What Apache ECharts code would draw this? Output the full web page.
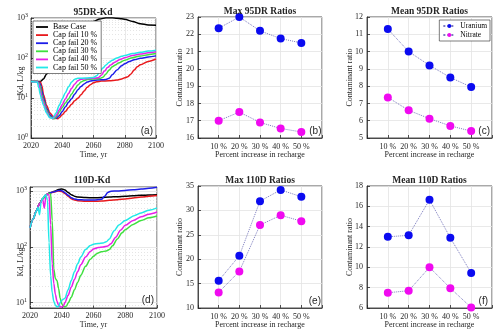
<!DOCTYPE html>
<html><head><meta charset="utf-8">
<script src="https://cdn.jsdelivr.net/npm/echarts@6/dist/echarts.min.js"></script>
<style>html,body{margin:0;padding:0;background:#fff}#c{width:500px;height:336px}</style>
</head><body><div id="c"></div>
<script>
// ---------- DATA ----------
const kdNames = ['Base Case', 'Cap fail 10 %', 'Cap fail 20 %', 'Cap fail 30 %', 'Cap fail 40 %', 'Cap fail 50 %'];
const kdColors = ['#000000', '#e8191c', '#1c1ce8', '#3ee03e', '#e81ee8', '#22e8e8'];

// 95DR-Kd  [year, Kd]
const dr95_base = [[2020,26],[2024,26],[2026,26],[2028,30],[2030,40],[2032,46],[2034,55],[2036,68],[2038,88],[2040,112],[2044,190],[2048,320],[2052,480],[2056,650],[2060,820],[2064,950],[2068,1010],[2070,1020],[2072,1015],[2075,990],[2078,960],[2080,930],[2085,820],[2090,720],[2095,670],[2100,660]];
const dr95_10 = [[2020,26],[2024,26],[2026,25],[2027,20],[2028,12],[2030,6.5],[2032,4.3],[2034,3.5],[2036,3.1],[2037,3.05],[2038,3.2],[2040,3.8],[2042,4.6],[2044,5.7],[2046,7],[2048,8.5],[2050,9.8],[2052,12],[2054,15],[2056,18.5],[2058,21.5],[2060,24],[2062,25.5],[2065,26.5],[2070,27],[2075,28],[2078,30],[2080,32],[2082,34],[2084,40],[2086,50],[2088,60],[2090,68],[2095,82],[2100,95]];
const dr95_20 = [[2020,26],[2024,26],[2025,25],[2026,22],[2027,15],[2028,10],[2030,5.5],[2032,3.8],[2034,3.2],[2036,3.1],[2038,3.6],[2040,4.6],[2042,6],[2044,7.8],[2046,9.6],[2048,12.5],[2050,16],[2052,19.5],[2054,22.5],[2056,25],[2058,26.5],[2060,27.5],[2065,28.5],[2068,29],[2070,31],[2072,38],[2075,50],[2078,64],[2080,72],[2083,82],[2086,90],[2090,98],[2095,106],[2100,113]];
const dr95_30 = [[2020,26],[2024,26],[2025,24],[2026,19],[2027,12],[2028,8.5],[2030,5],[2032,3.5],[2034,3.05],[2035,3.05],[2036,3.3],[2038,4.4],[2040,5.8],[2042,7.5],[2044,9.5],[2046,12.5],[2048,16.5],[2050,21],[2052,25],[2054,27.5],[2056,29],[2060,30],[2064,30.5],[2066,33],[2068,40],[2070,50],[2072,60],[2074,67],[2076,75],[2080,88],[2085,102],[2090,112],[2095,121],[2100,129]];
const dr95_40 = [[2020,26],[2024,25.5],[2025,22],[2026,15],[2027,10],[2028,7.5],[2030,4.5],[2032,3.3],[2034,3.05],[2036,3.6],[2038,5],[2040,6.8],[2042,9.5],[2044,13],[2046,17.5],[2048,22.5],[2050,27],[2052,29.5],[2055,30.5],[2060,31],[2063,32],[2065,37],[2067,47],[2069,58],[2071,67],[2074,80],[2077,92],[2080,102],[2085,115],[2090,125],[2095,135],[2100,143]];
const dr95_50 = [[2020,26],[2024,25],[2025,18],[2026,12],[2027,8.5],[2028,6.5],[2030,4.2],[2032,3.2],[2034,3.1],[2036,4.2],[2038,6.5],[2040,9.5],[2042,13.5],[2044,19],[2046,25],[2048,29.5],[2050,31],[2055,31.5],[2060,32.5],[2062,36],[2064,45],[2066,56],[2068,67],[2070,78],[2072,88],[2075,100],[2078,110],[2080,116],[2085,129],[2090,139],[2095,149],[2100,157]];

// 110D-Kd  [year, Kd]
const d110_base = [[2020,220],[2022,320],[2024,450],[2026,600],[2028,740],[2030,860],[2032,930],[2034,970],[2036,1020],[2038,1080],[2040,1110],[2042,1060],[2044,960],[2046,870],[2048,820],[2050,790],[2055,775],[2060,770],[2065,775],[2070,790],[2075,805],[2080,820],[2085,835],[2090,850],[2095,860],[2100,870]];
const d110_10 = [[2020,220],[2022,320],[2024,450],[2026,600],[2028,740],[2030,860],[2032,930],[2034,960],[2036,990],[2038,1020],[2040,1000],[2042,920],[2044,820],[2046,740],[2048,700],[2050,680],[2055,665],[2060,665],[2065,670],[2070,690],[2075,710],[2080,730],[2085,760],[2090,790],[2095,815],[2100,840]];
const d110_20 = [[2020,220],[2022,320],[2024,450],[2026,600],[2028,740],[2030,860],[2032,930],[2034,965],[2036,1000],[2038,1040],[2040,1030],[2042,950],[2044,850],[2046,770],[2048,730],[2050,710],[2055,700],[2060,700],[2065,720],[2067,820],[2069,960],[2071,1010],[2075,1020],[2080,1040],[2085,1070],[2090,1100],[2095,1140],[2100,1190]];
const d110_30 = [[2020,220],[2022,320],[2024,450],[2026,600],[2028,740],[2030,850],[2032,920],[2033,900],[2034,300],[2035,40],[2036,27],[2037,25],[2038,18],[2039,12],[2040,9.5],[2041,8.6],[2042,8.4],[2043,8.7],[2044,9.8],[2046,12.5],[2048,17],[2050,23],[2052,31],[2055,45],[2058,60],[2060,68],[2062,76],[2065,82],[2068,85],[2070,90],[2072,105],[2075,140],[2078,180],[2080,205],[2085,255],[2090,300],[2095,335],[2100,360]];
const d110_40 = [[2020,220],[2022,320],[2024,450],[2026,600],[2028,720],[2029,500],[2030,800],[2031,900],[2032,870],[2033,250],[2034,50],[2035,22],[2036,14],[2037,10.5],[2038,9],[2039,8.4],[2040,8.3],[2041,8.7],[2042,10],[2044,13.5],[2046,19],[2048,26],[2050,36],[2052,48],[2055,66],[2058,83],[2060,92],[2063,98],[2066,100],[2069,104],[2071,115],[2074,150],[2077,200],[2080,245],[2085,300],[2090,350],[2095,390],[2100,425]];
const d110_50 = [[2020,220],[2022,320],[2024,440],[2025,520],[2026,380],[2027,650],[2028,750],[2029,820],[2030,870],[2031,700],[2032,120],[2033,30],[2034,15],[2035,10.5],[2036,9],[2037,8.4],[2038,8.5],[2039,10],[2040,11],[2041,11.5],[2042,12],[2044,17],[2046,25],[2048,36],[2050,50],[2052,66],[2055,90],[2058,106],[2060,112],[2063,116],[2066,118],[2068,124],[2070,140],[2073,196],[2076,250],[2080,300],[2086,370],[2090,410],[2095,460],[2100,505]];

// minor (dotted) grid values of the log axes
const minorKdA = [2,3,4,5,6,7,8,9,20,30,40,50,60,70,80,90,200,300,400,500,600,700,800,900];
const minorKdD = [9,20,30,40,50,60,70,80,90,200,300,400,500,600,700,800,900];

// Ratio panels
const recharge = ['10 %', '20 %', '30 %', '40 %', '50 %'];
const max95_U = [22.35, 23.0, 22.2, 21.75, 21.5];
const max95_N = [17.0, 17.5, 16.9, 16.55, 16.35];
const mean95_U = [11.3, 10.0, 9.2, 8.5, 7.95];
const mean95_N = [7.35, 6.6, 6.12, 5.7, 5.4];
const max110_U = [15.6, 20.7, 31.9, 34.2, 32.8];
const max110_N = [13.2, 17.5, 27.0, 29.0, 27.8];
const mean110_U = [13.0, 13.15, 16.65, 12.9, 9.45];
const mean110_N = [7.5, 7.7, 10.0, 7.95, 6.05];

// ---------- CHART ----------
const SERIF = 'Liberation Serif';
const AX = '#262626';
const grids = [
  {left:31, top:18, width:125, height:120},
  {left:198, top:17, width:124, height:121},
  {left:367, top:17, width:125, height:121},
  {left:30, top:187, width:127, height:121},
  {left:198, top:186, width:124, height:122},
  {left:367, top:186, width:125, height:122}
].map(g => Object.assign({show:true, borderColor:AX, borderWidth:0.8, backgroundColor:'#fff'}, g));

function baseAxis(extra) {
  return Object.assign({
    axisLine:{show:true, onZero:false, lineStyle:{color:AX, width:0.8}},
    axisTick:{show:true, inside:true, length:3, lineStyle:{color:AX, width:0.8}},
    axisLabel:{color:AX, fontFamily:SERIF, fontSize:8, margin:4},
    splitLine:{show:true, lineStyle:{color:'#e3e3e3', width:0.8}},
    nameTextStyle:{color:AX, fontFamily:SERIF, fontSize:8},
    nameLocation:'middle', nameMoveOverlap:false
  }, extra);
}
const supLabel = {
  formatter: v => { const e = Math.round(Math.log10(v)); return Math.abs(Math.pow(10,e)-v) < 1e-6*v ? '10{s|' + e + '}' : ''; },
  rich: { s: { fontSize:6, fontFamily:SERIF, color:AX, verticalAlign:'top', padding:[0,0,5,0] } },
  color:AX, fontFamily:SERIF, fontSize:8, margin:3
};
const yearLabel = {color:AX, fontFamily:SERIF, fontSize:8, margin:4, formatter: v => String(v)};
const catLabel = {color:AX, fontFamily:SERIF, fontSize:8, margin:5,
  formatter: v => (v >= 1 && v <= 5) ? recharge[v-1] : ''};

const xAxes = [
  baseAxis({gridIndex:0, type:'value', min:2020, max:2100, interval:20, name:'Time, yr', nameGap:13, axisLabel:yearLabel}),
  baseAxis({gridIndex:1, type:'value', min:0, max:6, interval:1, name:'Percent increase in recharge', nameGap:13, axisLabel:catLabel}),
  baseAxis({gridIndex:2, type:'value', min:0, max:6, interval:1, name:'Percent increase in recharge', nameGap:13, axisLabel:catLabel}),
  baseAxis({gridIndex:3, type:'value', min:2020, max:2100, interval:20, name:'Time, yr', nameGap:13, axisLabel:yearLabel}),
  baseAxis({gridIndex:4, type:'value', min:0, max:6, interval:1, name:'Percent increase in recharge', nameGap:13, axisLabel:catLabel}),
  baseAxis({gridIndex:5, type:'value', min:0, max:6, interval:1, name:'Percent increase in recharge', nameGap:13, axisLabel:catLabel})
];
const yAxes = [
  baseAxis({gridIndex:0, type:'log', logBase:10, min:1, max:1000, axisLabel:supLabel}),
  baseAxis({gridIndex:1, type:'value', min:16, max:23, interval:1, name:'Contaminant ratio', nameGap:14}),
  baseAxis({gridIndex:2, type:'value', min:5, max:12, interval:1, name:'Contaminant ratio', nameGap:13}),
  baseAxis({gridIndex:3, type:'log', logBase:10, min:8, max:1200, axisLabel:supLabel}),
  baseAxis({gridIndex:4, type:'value', min:10, max:35, interval:5, name:'Contaminant ratio', nameGap:14}),
  baseAxis({gridIndex:5, type:'value', min:6, max:18, interval:2, name:'Contaminant ratio', nameGap:13.5})
];

const series = [];
const set95 = [dr95_base, dr95_10, dr95_20, dr95_30, dr95_40, dr95_50];
const set110 = [d110_base, d110_10, d110_20, d110_30, d110_40, d110_50];
[[set95,0,minorKdA],[set110,3,minorKdD]].forEach(([set, gi, minors]) => {
  set.forEach((d, i) => {
    const s = {
      type:'line', name:kdNames[i], xAxisIndex:gi, yAxisIndex:gi, data:d,
      smooth:0.3, smoothMonotone:'x', symbol:'none', color:kdColors[i],
      lineStyle:{color:kdColors[i], width:1.5}, z:2+i, animation:false
    };
    if (i === 0) {
      s.markLine = {silent:true, symbol:'none', animation:false, label:{show:false}, z:1,
        lineStyle:{color:'#d4d4d4', type:[1,2], width:0.6},
        data: minors.map(v => ({yAxis:v}))};
    }
    series.push(s);
  });
});
const UCOL = '#0b0bf0', NCOL = '#f00af0', LINK = '#7d7dbf';
[[max95_U,max95_N,1],[mean95_U,mean95_N,2],[max110_U,max110_N,4],[mean110_U,mean110_N,5]].forEach(([u,n,gi]) => {
  [[u,'Uranium',UCOL],[n,'Nitrate',NCOL]].forEach(([vals,nm,col]) => series.push({
    type:'line', name:nm, xAxisIndex:gi, yAxisIndex:gi,
    data: recharge.map((r,i) => [i+1, vals[i]]),
    symbol:'circle', symbolSize:8, color:col,
    itemStyle:{color:col, borderColor:col, borderWidth:0},
    lineStyle:{type:'dotted', color:LINK, width:1}, z:5, animation:false
  }));
});

function txt(x, y, s, font, align, rot) {
  return {type:'text', x:x, y:y, z:100, rotation:rot||0,
    style:{text:s, font:font, textAlign:align||'center', textVerticalAlign:'middle', fill:'#262626'}};
}
const TF = 'bold 9.5px "Liberation Serif"';
const LF = '10px "Liberation Sans"';
const NF = '8px "Liberation Serif"';
const graphics = [
  txt(93, 12.5, '95DR-Kd', TF), txt(260, 12, 'Max 95DR Ratios', TF), txt(429.5, 12, 'Mean 95DR Ratios', TF),
  txt(92, 180.5, '110D-Kd', TF), txt(260, 180.5, 'Max 110D Ratios', TF), txt(429.5, 180.5, 'Mean 110D Ratios', TF),
  txt(21, 81, 'Kd, L/kg', NF, 'center', Math.PI/2), txt(21, 262, 'Kd, L/kg', NF, 'center', Math.PI/2),
  txt(153, 131.5, '(a)', LF, 'right'), txt(321.5, 131.5, '(b)', LF, 'right'), txt(490, 131.5, '(c)', LF, 'right'),
  txt(154, 300.5, '(d)', LF, 'right'), txt(321, 301, '(e)', LF, 'right'), txt(488, 301, '(f)', LF, 'right')
];

const chart = echarts.init(document.getElementById('c'), null, {renderer:'canvas'});
chart.setOption({
  animation:false,
  backgroundColor:'#fff',
  grid: grids, xAxis: xAxes, yAxis: yAxes, series: series,
  legend: [
    {data:kdNames, orient:'vertical', left:33, top:21, icon:'rect', itemWidth:12, itemHeight:1.8, itemGap:0.1,
     textStyle:{fontFamily:SERIF, fontSize:8, lineHeight:8, color:'#000'},
     backgroundColor:'#fff', borderColor:AX, borderWidth:0.6, padding:[2,4,2,3], selectedMode:false, z:50},
    {data:['Uranium','Nitrate'], orient:'vertical', right:10, top:20, itemWidth:12, itemHeight:5, itemGap:1,
     textStyle:{fontFamily:SERIF, fontSize:7.5, lineHeight:7, color:'#000'},
     backgroundColor:'#fff', borderColor:AX, borderWidth:0.6, padding:[2,3,2,3], selectedMode:false, z:50}
  ],
  graphic: graphics
});
</script></body></html>
